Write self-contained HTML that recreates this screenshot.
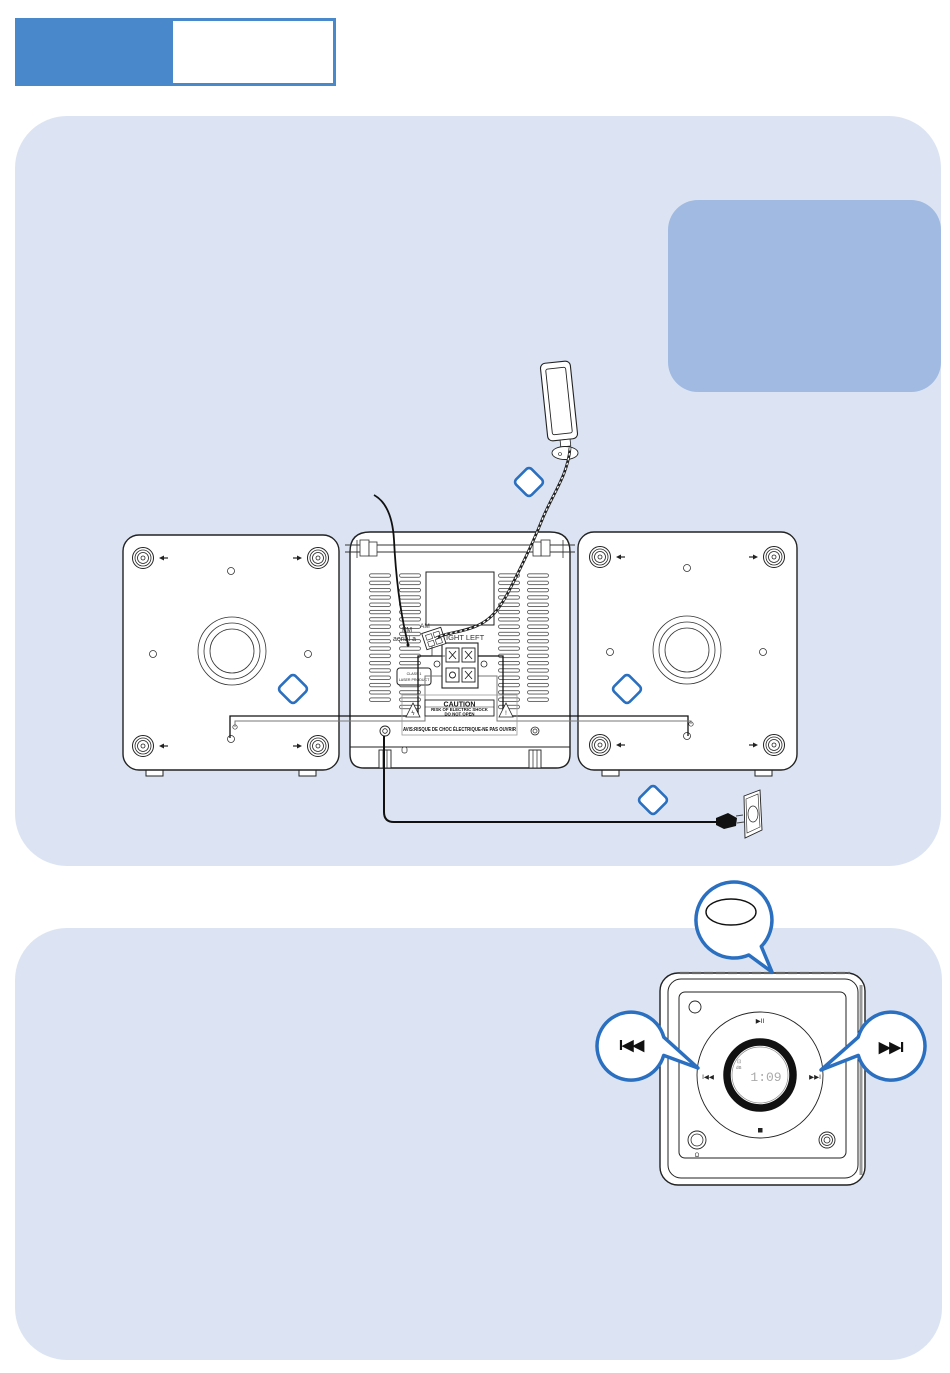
<!DOCTYPE html>
<html>
<head>
<meta charset="utf-8">
<style>
  html,body{margin:0;padding:0;background:#fff;}
  body{width:950px;height:1373px;overflow:hidden;}
  svg{display:block;font-family:"Liberation Sans",sans-serif;}
</style>
</head>
<body>
<svg width="950" height="1373" viewBox="0 0 950 1373" xmlns="http://www.w3.org/2000/svg">
  <defs>
    <pattern id="vent" patternUnits="userSpaceOnUse" width="24" height="7.3">
      <rect x="0.5" y="1.8" width="21" height="3.4" rx="1.7" fill="#fff" stroke="#333" stroke-width="0.7"/>
    </pattern>
    <g id="knob">
      <circle r="10.5" fill="#fff" stroke="#222" stroke-width="1"/>
      <circle r="8" fill="none" stroke="#222" stroke-width="0.8"/>
      <circle r="5.5" fill="none" stroke="#222" stroke-width="0.8"/>
      <circle r="2" fill="none" stroke="#222" stroke-width="0.8"/>
    </g>
    <g id="arrL"><path d="M0 0 L5 -2.5 L5 2.5 Z" fill="#222"/><path d="M4 0 H9" stroke="#222" stroke-width="1.2"/></g>
    <g id="arrR"><path d="M0 0 L-5 -2.5 L-5 2.5 Z" fill="#222"/><path d="M-4 0 H-9" stroke="#222" stroke-width="1.2"/></g>
    <g id="dia">
      <rect x="-11" y="-11" width="22" height="22" rx="4" fill="#fff" stroke="#2a6fc0" stroke-width="2.6" transform="rotate(45)"/>
    </g>
  </defs>

  <!-- Header -->
  <rect x="15" y="18" width="156" height="68" fill="#4a88cc"/>
  <rect x="171.5" y="19.5" width="163" height="65" fill="#fff" stroke="#4a88cc" stroke-width="3"/>

  <!-- Panels -->
  <rect x="15" y="116" width="926" height="750" rx="52" fill="#dce4f3"/>
  <rect x="668" y="200" width="273" height="192" rx="30" fill="#a0bae2"/>
  <rect x="15" y="928" width="927" height="432" rx="52" fill="#dce4f3"/>

  <!-- LEFT SPEAKER -->
  <rect x="146" y="768" width="17" height="8" fill="#fff" stroke="#222" stroke-width="1"/>
  <rect x="299" y="768" width="17" height="8" fill="#fff" stroke="#222" stroke-width="1"/>
  <rect x="123" y="535" width="216" height="235" rx="16" fill="#fff" stroke="#222" stroke-width="1.4"/>
  <use href="#knob" x="143" y="558"/>
  <use href="#knob" x="318" y="558"/>
  <use href="#knob" x="143" y="746"/>
  <use href="#knob" x="318" y="746"/>
  <use href="#arrL" x="159" y="558"/>
  <use href="#arrR" x="302" y="558"/>
  <use href="#arrL" x="159" y="746"/>
  <use href="#arrR" x="302" y="746"/>
  <circle cx="231" cy="571" r="3.5" fill="#fff" stroke="#333" stroke-width="0.8"/>
  <circle cx="153" cy="654" r="3.5" fill="#fff" stroke="#333" stroke-width="0.8"/>
  <circle cx="308" cy="654" r="3.5" fill="#fff" stroke="#333" stroke-width="0.8"/>
  <circle cx="232" cy="651" r="34" fill="none" stroke="#333" stroke-width="0.8"/>
  <circle cx="232" cy="651" r="28" fill="none" stroke="#333" stroke-width="0.8"/>
  <circle cx="232" cy="651" r="22" fill="none" stroke="#333" stroke-width="0.8"/>
  <circle cx="231" cy="739" r="3.5" fill="#fff" stroke="#333" stroke-width="0.8"/>
  <circle cx="235" cy="727" r="2.2" fill="#fff" stroke="#333" stroke-width="0.7"/>
  <use href="#dia" x="293" y="689"/>

  <!-- RIGHT SPEAKER -->
  <rect x="602" y="768" width="17" height="8" fill="#fff" stroke="#222" stroke-width="1"/>
  <rect x="755" y="768" width="17" height="8" fill="#fff" stroke="#222" stroke-width="1"/>
  <rect x="578" y="532" width="219" height="238" rx="16" fill="#fff" stroke="#222" stroke-width="1.4"/>
  <use href="#knob" x="600" y="557"/>
  <use href="#knob" x="774" y="557"/>
  <use href="#knob" x="600" y="745"/>
  <use href="#knob" x="774" y="745"/>
  <use href="#arrL" x="616" y="557"/>
  <use href="#arrR" x="758" y="557"/>
  <use href="#arrL" x="616" y="745"/>
  <use href="#arrR" x="758" y="745"/>
  <circle cx="687" cy="568" r="3.5" fill="#fff" stroke="#333" stroke-width="0.8"/>
  <circle cx="610" cy="652" r="3.5" fill="#fff" stroke="#333" stroke-width="0.8"/>
  <circle cx="763" cy="652" r="3.5" fill="#fff" stroke="#333" stroke-width="0.8"/>
  <circle cx="687" cy="650" r="34" fill="none" stroke="#333" stroke-width="0.8"/>
  <circle cx="687" cy="650" r="28" fill="none" stroke="#333" stroke-width="0.8"/>
  <circle cx="687" cy="650" r="22" fill="none" stroke="#333" stroke-width="0.8"/>
  <circle cx="687" cy="736" r="3.5" fill="#fff" stroke="#333" stroke-width="0.8"/>
  <circle cx="691" cy="724" r="2.2" fill="#fff" stroke="#333" stroke-width="0.7"/>
  <use href="#dia" x="627" y="689"/>

  <!-- CENTRAL UNIT -->
  <path d="M350 552 Q350 532 370 532 H550 Q570 532 570 552 V754 Q570 768 556 768 H364 Q350 768 350 754 Z" fill="#fff" stroke="#222" stroke-width="1.4"/>
  <!-- top rail -->
  <path d="M345 545 H575 M345 552 H575" stroke="#333" stroke-width="0.9" fill="none"/>
  <rect x="360" y="540" width="9" height="16" fill="#fff" stroke="#333" stroke-width="0.8"/>
  <rect x="369" y="542" width="8" height="14" fill="#fff" stroke="#333" stroke-width="0.8"/>
  <rect x="541" y="540" width="9" height="16" fill="#fff" stroke="#333" stroke-width="0.8"/>
  <rect x="533" y="542" width="8" height="14" fill="#fff" stroke="#333" stroke-width="0.8"/>
  <path d="M357 540 V558 M563 540 V558" stroke="#333" stroke-width="0.8"/>
  <!-- vents -->
  <g transform="translate(369,572)"><rect width="23" height="132" fill="url(#vent)"/></g>
  <g transform="translate(399,572)"><rect width="23" height="139" fill="url(#vent)"/></g>
  <g transform="translate(498,572)"><rect width="23" height="139" fill="url(#vent)"/></g>
  <g transform="translate(527,572)"><rect width="23" height="132" fill="url(#vent)"/></g>
  <!-- display rect -->
  <rect x="426" y="572" width="68" height="53" fill="#fff" stroke="#222" stroke-width="1"/>
  <!-- laser label -->
  <rect x="397" y="668" width="34" height="17" rx="3" fill="#fff" stroke="#222" stroke-width="1"/>
  <text x="414" y="675" font-size="3.6" text-anchor="middle" fill="#222">CLASS 1</text>
  <text x="414" y="681" font-size="3.6" text-anchor="middle" fill="#222">LASER PRODUCT</text>
  <!-- wires black frames -->
  <path d="M230 738 V716 H418 V656 H442" fill="none" stroke="#111" stroke-width="1.3"/>
  <path d="M688 736 V716 H503 V656 H478" fill="none" stroke="#111" stroke-width="1.3"/>
  <path d="M235 727 V721 H425 V676 H448" fill="none" stroke="#777" stroke-width="1"/>
  <path d="M691 724 V721 H497 V676 H478" fill="none" stroke="#777" stroke-width="1"/>
  <!-- terminal block -->
  <rect x="442" y="643" width="36" height="45" fill="#fff" stroke="#222" stroke-width="1.1"/>
  <g stroke="#222" stroke-width="0.9" fill="#fff">
    <rect x="446" y="648" width="13" height="14"/>
    <rect x="462" y="648" width="13" height="14"/>
    <rect x="446" y="668" width="13" height="14"/>
    <rect x="462" y="668" width="13" height="14"/>
    <path d="M449 651 L456 659 M456 651 L449 659 M465 651 L472 659 M472 651 L465 659 M465 671 L472 679 M472 671 L465 679" fill="none"/>
    <circle cx="452.5" cy="675" r="3" fill="none"/>
  </g>
  <circle cx="437" cy="664" r="3" fill="#fff" stroke="#222" stroke-width="0.8"/>
  <circle cx="484" cy="664" r="3" fill="#fff" stroke="#222" stroke-width="0.8"/>
  <!-- caution -->
  <rect x="402" y="695" width="115" height="40" fill="none" stroke="#999" stroke-width="0.8"/>
  <rect x="425" y="700" width="69" height="16" fill="#fff" stroke="#222" stroke-width="0.9"/>
  <path d="M425 707 H494" stroke="#222" stroke-width="0.6"/>
  <text x="459.5" y="706.5" font-size="7" font-weight="bold" text-anchor="middle" fill="#111">CAUTION</text>
  <text x="459.5" y="711" font-size="4.3" font-weight="bold" text-anchor="middle" fill="#111">RISK OF ELECTRIC SHOCK</text>
  <text x="459.5" y="715.3" font-size="4.3" font-weight="bold" text-anchor="middle" fill="#111">DO NOT OPEN</text>
  <path d="M406 717 L413 703 L420 717 Z M499 717 L506 703 L513 717 Z" fill="#fff" stroke="#222" stroke-width="0.8"/>
  <text x="413" y="715" font-size="6" text-anchor="middle" fill="#222">ϟ</text>
  <text x="506" y="715" font-size="6" text-anchor="middle" fill="#222">!</text>
  <text x="403" y="731" font-size="5.2" font-weight="bold" fill="#111" textLength="113" lengthAdjust="spacingAndGlyphs">AVIS:RISQUE DE CHOC ÉLECTRIQUE-NE PAS OUVRIR</text>
  <!-- bottom section -->
  <path d="M350 747 H570" stroke="#222" stroke-width="1"/>
  <circle cx="385" cy="731" r="5" fill="#fff" stroke="#222" stroke-width="0.9"/>
  <circle cx="385" cy="731" r="2.3" fill="none" stroke="#222" stroke-width="0.8"/>
  <circle cx="535" cy="731" r="4" fill="#fff" stroke="#222" stroke-width="0.8"/>
  <circle cx="535" cy="731" r="2" fill="none" stroke="#222" stroke-width="0.7"/>
  <rect x="379" y="750" width="12" height="18" fill="#fff" stroke="#222" stroke-width="0.9"/>
  <path d="M383 750 V768 M387 750 V768" stroke="#222" stroke-width="0.7"/>
  <rect x="529" y="750" width="12" height="18" fill="#fff" stroke="#222" stroke-width="0.9"/>
  <path d="M533 750 V768 M537 750 V768" stroke="#222" stroke-width="0.7"/>
  <rect x="402" y="747" width="5" height="6" rx="2" fill="#fff" stroke="#222" stroke-width="0.7"/>

  <!-- FM aerial wire -->
  <path d="M374 495 Q392 505 394 540 Q397 600 408 644" fill="none" stroke="#111" stroke-width="1.8"/>
  <circle cx="408" cy="645" r="1.5" fill="#111"/>
  <text x="402" y="632" font-size="7" fill="#333">FM</text>
  <text x="393" y="641" font-size="7" fill="#333">aerial a</text>
  <text x="420" y="628" font-size="6.5" fill="#333">AM</text>
  <text x="446" y="640" font-size="7.5" fill="#333">IGHT LEFT</text>
  <!-- AM connector -->
  <g transform="rotate(-18 434 639)">
    <rect x="424" y="630" width="20" height="17" fill="#fff" stroke="#222" stroke-width="0.9"/>
    <rect x="427" y="633" width="6" height="5" fill="#fff" stroke="#222" stroke-width="0.6"/>
    <rect x="435" y="633" width="6" height="5" fill="#fff" stroke="#222" stroke-width="0.6"/>
    <rect x="427" y="640" width="6" height="5" fill="#fff" stroke="#222" stroke-width="0.6"/>
    <rect x="435" y="640" width="6" height="5" fill="#fff" stroke="#222" stroke-width="0.6"/>
  </g>
  <path d="M432 646 V656 H445" fill="none" stroke="#333" stroke-width="0.8"/>

  <!-- Antenna -->
  <g transform="rotate(-6 559 401)">
    <rect x="544" y="362" width="30" height="78" rx="5" fill="#fff" stroke="#222" stroke-width="1.1"/>
    <rect x="549" y="368" width="20" height="66" rx="2" fill="#fff" stroke="#222" stroke-width="0.9"/>
    <rect x="556" y="440" width="10" height="7" fill="#fff" stroke="#222" stroke-width="0.8"/>
  </g>
  <ellipse cx="565" cy="453" rx="13" ry="6.5" fill="#fff" stroke="#222" stroke-width="0.9"/>
  <circle cx="560" cy="454" r="1.5" fill="none" stroke="#222" stroke-width="0.6"/>
  <!-- twisted wire -->
  <path d="M570 448 C568 475 552 495 542 520 S522 565 512 585 S493 620 474 627 S448 632 436 638" fill="none" stroke="#222" stroke-width="2.8"/>
  <path d="M570 448 C568 475 552 495 542 520 S522 565 512 585 S493 620 474 627 S448 632 436 638" fill="none" stroke="#fff" stroke-width="1.2" stroke-dasharray="2.5 2.5"/>
  <use href="#dia" x="529" y="482"/>

  <!-- Power cord -->
  <path d="M384 736 V812 Q384 822 394 822 H722" fill="none" stroke="#111" stroke-width="2"/>
  <path d="M716 818 L728 813 L737 818 L736 826 L724 829 L716 825 Z" fill="#111"/>
  <path d="M736 816 L743 815 M737 823 L744 822" stroke="#444" stroke-width="1"/>
  <path d="M744 796 L760 790 L762 830 L745 838 Z" fill="#fff" stroke="#222" stroke-width="0.9"/>
  <path d="M746 799 L758 794 L760 827 L747 833 Z" fill="none" stroke="#222" stroke-width="0.6"/>
  <ellipse cx="753" cy="814" rx="5" ry="8" fill="none" stroke="#222" stroke-width="0.7"/>
  <use href="#dia" x="653" y="800"/>

  <!-- BOTTOM DEVICE -->
  <rect x="660" y="973" width="205" height="212" rx="18" fill="#fff" stroke="#222" stroke-width="1.4"/>
  <path d="M680 973 H850" stroke="#666" stroke-width="2.2" stroke-dasharray="9 3"/>
  <rect x="668" y="979" width="190" height="199" rx="13" fill="#fff" stroke="#222" stroke-width="1"/>
  <path d="M861 985 V1175" stroke="#999" stroke-width="3"/>
  <rect x="679" y="992" width="167" height="166" rx="6" fill="#fff" stroke="#222" stroke-width="1"/>
  <circle cx="695" cy="1007" r="6" fill="#fff" stroke="#222" stroke-width="0.9"/>
  <circle cx="760" cy="1075" r="63" fill="#fff" stroke="#222" stroke-width="0.9"/>
  <circle cx="760" cy="1075" r="33" fill="#fff" stroke="#111" stroke-width="7.5"/>
  <circle cx="760" cy="1075" r="28" fill="none" stroke="#888" stroke-width="0.7"/>
  <text x="766" y="1081" font-size="13" text-anchor="middle" fill="#aaa" font-family="Liberation Mono, monospace">1:09</text>
  <text x="737" y="1063" font-size="5" fill="#777">⊡</text>
  <text x="736" y="1069" font-size="4.5" fill="#777">dB</text>
  <text x="760" y="1023" font-size="6.5" text-anchor="middle" fill="#222">▶II</text>
  <text x="708" y="1079" font-size="6.5" text-anchor="middle" fill="#222">I◀◀</text>
  <text x="815" y="1079" font-size="6.5" text-anchor="middle" fill="#222">▶▶I</text>
  <rect x="758" y="1128" width="4.5" height="4.5" fill="#222"/>
  <circle cx="697" cy="1140" r="9" fill="#fff" stroke="#222" stroke-width="0.9"/>
  <circle cx="697" cy="1140" r="6" fill="none" stroke="#222" stroke-width="0.8"/>
  <text x="697" y="1157" font-size="6" text-anchor="middle" fill="#333">Ω</text>
  <circle cx="827" cy="1140" r="8" fill="#fff" stroke="#222" stroke-width="0.9"/>
  <circle cx="827" cy="1140" r="5.5" fill="none" stroke="#222" stroke-width="0.8"/>
  <circle cx="827" cy="1140" r="3" fill="none" stroke="#222" stroke-width="0.8"/>

  <!-- Bubbles -->
  <path d="M772 972 L748.8 955 A38 38 0 1 1 761.3 946.4 Z" fill="#fff" stroke="#2a6fc0" stroke-width="3.5" stroke-linejoin="round"/>
  <ellipse cx="731" cy="912" rx="25" ry="13" fill="#fff" stroke="#111" stroke-width="1.4"/>

  <path d="M698 1068 L663.8 1037.2 A34 34 0 1 0 663.7 1055.4 Z" fill="#fff" stroke="#2a6fc0" stroke-width="3.5" stroke-linejoin="round"/>
  <text x="631" y="1050" font-size="15" font-weight="bold" text-anchor="middle" fill="#111" letter-spacing="-1">I◀◀</text>

  <path d="M821 1070 L858.2 1037.2 A34 34 0 1 1 858.3 1055.4 Z" fill="#fff" stroke="#2a6fc0" stroke-width="3.5" stroke-linejoin="round"/>
  <text x="891" y="1052" font-size="15" font-weight="bold" text-anchor="middle" fill="#111" letter-spacing="-1">▶▶I</text>
</svg>
</body>
</html>
